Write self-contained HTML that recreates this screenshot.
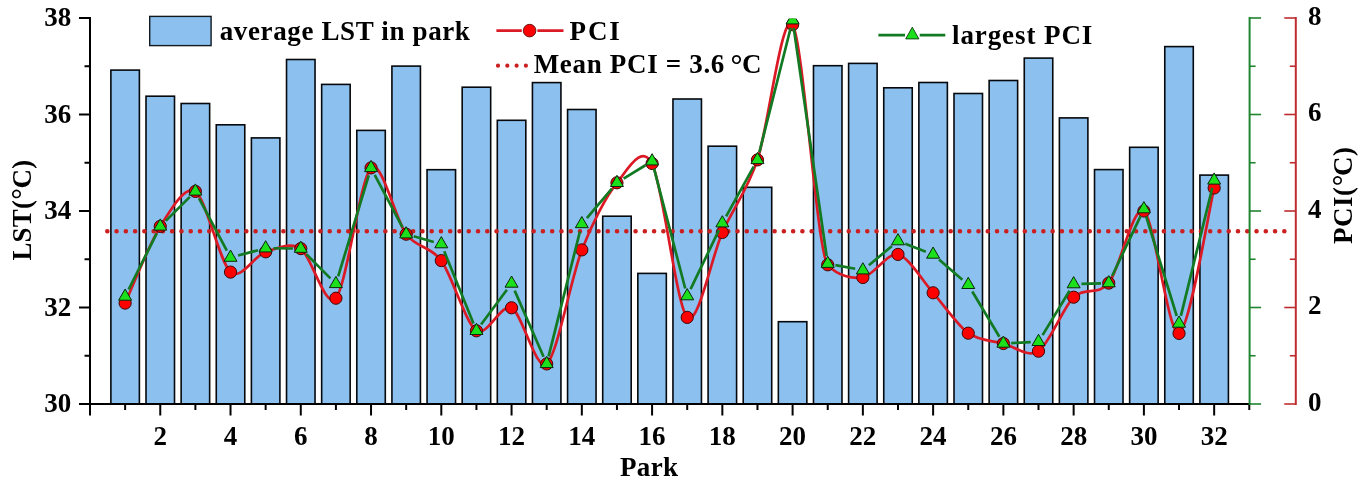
<!DOCTYPE html>
<html lang="en"><head><meta charset="utf-8"><title>Park LST and PCI</title>
<style>html,body{margin:0;padding:0;background:#fff;}body{width:1368px;height:486px;overflow:hidden;}svg{display:block;}text{font-family:"Liberation Serif", "DejaVu Serif", serif;font-weight:bold;font-size:27px;fill:#000;}</style>
</head><body>
<svg width="1368" height="486" viewBox="0 0 1368 486">
<rect x="0" y="0" width="1368" height="486" fill="#ffffff"/>
<defs><clipPath id="plot"><rect x="90" y="18.5" width="1205.8" height="385.5"/></clipPath></defs>
<g fill="#8CC1EF" stroke="#05080c" stroke-width="1.6" stroke-linejoin="miter">
<rect x="110.88" y="70.1" width="28.5" height="333.9"/>
<rect x="146.01" y="96.2" width="28.5" height="307.8"/>
<rect x="181.14" y="103.5" width="28.5" height="300.5"/>
<rect x="216.27" y="124.8" width="28.5" height="279.2"/>
<rect x="251.4" y="137.9" width="28.5" height="266.1"/>
<rect x="286.53" y="59.5" width="28.5" height="344.5"/>
<rect x="321.66" y="84.4" width="28.5" height="319.6"/>
<rect x="356.79" y="130.4" width="28.5" height="273.6"/>
<rect x="391.92" y="66.1" width="28.5" height="337.9"/>
<rect x="427.05" y="169.7" width="28.5" height="234.3"/>
<rect x="462.18" y="87.2" width="28.5" height="316.8"/>
<rect x="497.31" y="120.3" width="28.5" height="283.7"/>
<rect x="532.44" y="82.6" width="28.5" height="321.4"/>
<rect x="567.57" y="109.5" width="28.5" height="294.5"/>
<rect x="602.7" y="216.2" width="28.5" height="187.8"/>
<rect x="637.83" y="273.4" width="28.5" height="130.6"/>
<rect x="672.96" y="99" width="28.5" height="305"/>
<rect x="708.09" y="146.2" width="28.5" height="257.8"/>
<rect x="743.22" y="187.3" width="28.5" height="216.7"/>
<rect x="778.35" y="321.7" width="28.5" height="82.3"/>
<rect x="813.48" y="65.7" width="28.5" height="338.3"/>
<rect x="848.61" y="63.4" width="28.5" height="340.6"/>
<rect x="883.74" y="87.8" width="28.5" height="316.2"/>
<rect x="918.87" y="82.5" width="28.5" height="321.5"/>
<rect x="954" y="93.5" width="28.5" height="310.5"/>
<rect x="989.13" y="80.5" width="28.5" height="323.5"/>
<rect x="1024.26" y="58.1" width="28.5" height="345.9"/>
<rect x="1059.39" y="117.9" width="28.5" height="286.1"/>
<rect x="1094.52" y="169.6" width="28.5" height="234.4"/>
<rect x="1129.65" y="147.3" width="28.5" height="256.7"/>
<rect x="1164.78" y="46.6" width="28.5" height="357.4"/>
<rect x="1199.91" y="175.1" width="28.5" height="228.9"/>
</g>
<line x1="107.3" y1="231.2" x2="1285" y2="231.2" stroke="#CC1F1F" stroke-width="4.6" stroke-linecap="round" stroke-dasharray="0 9.268"/>
<g clip-path="url(#plot)">
<path d="M125.13 303.1 C130.4 291.6 149.72 243.16 160.26 226.4 C170.8 209.65 184.85 184.55 195.39 191.4 C205.93 198.25 219.98 263.04 230.52 272.1 C241.06 281.16 255.11 254.68 265.65 251.8 C276.19 248.92 290.24 241.64 300.78 248.6 C311.32 255.56 325.37 310.31 335.91 298.2 C346.45 286.09 360.5 177.5 371.04 167.9 C381.58 158.3 395.63 220.29 406.17 234.2 C416.71 248.1 430.76 246.11 441.3 260.6 C451.84 275.09 465.89 323.72 476.43 330.8 C486.97 337.88 501.02 302.84 511.56 307.8 C522.1 312.76 536.15 372.58 546.69 363.9 C557.23 355.21 571.28 277.06 581.82 249.9 C592.36 222.74 606.41 195.76 616.95 182.8 C627.49 169.84 641.54 143.31 652.08 163.5 C662.62 183.69 676.67 307.05 687.21 317.4 C697.75 327.75 711.8 256.12 722.34 232.5 C732.88 208.88 746.93 191.07 757.47 159.9 C768.01 128.73 782.06 8.96 792.6 24.7 C803.14 40.44 817.19 253.37 827.73 264.8 C838.27 276.23 852.32 279.06 862.86 277.5 C873.4 275.94 887.45 252.11 897.99 254.4 C908.53 256.69 922.58 280.98 933.12 292.8 C943.66 304.62 957.71 325.59 968.25 333.2 C978.79 340.81 992.84 340.8 1003.38 343.5 C1013.92 346.2 1027.97 358.14 1038.51 351.2 C1049.05 344.25 1063.1 307.41 1073.64 297.2 C1084.18 286.99 1098.23 295.79 1108.77 283.1 C1119.31 270.41 1133.36 203.46 1143.9 211 C1154.44 218.54 1168.49 336.85 1179.03 333.4 C1189.57 329.95 1208.89 209.81 1214.16 188" fill="none" stroke="#DC1A26" stroke-width="2.7" stroke-linejoin="round"/>
<g fill="#FF0000" stroke="#3a0808" stroke-width="1">
<circle cx="125.13" cy="303.1" r="6.1"/>
<circle cx="160.26" cy="226.4" r="6.1"/>
<circle cx="195.39" cy="191.4" r="6.1"/>
<circle cx="230.52" cy="272.1" r="6.1"/>
<circle cx="265.65" cy="251.8" r="6.1"/>
<circle cx="300.78" cy="248.6" r="6.1"/>
<circle cx="335.91" cy="298.2" r="6.1"/>
<circle cx="371.04" cy="167.9" r="6.1"/>
<circle cx="406.17" cy="234.2" r="6.1"/>
<circle cx="441.3" cy="260.6" r="6.1"/>
<circle cx="476.43" cy="330.8" r="6.1"/>
<circle cx="511.56" cy="307.8" r="6.1"/>
<circle cx="546.69" cy="363.9" r="6.1"/>
<circle cx="581.82" cy="249.9" r="6.1"/>
<circle cx="616.95" cy="182.8" r="6.1"/>
<circle cx="652.08" cy="163.5" r="6.1"/>
<circle cx="687.21" cy="317.4" r="6.1"/>
<circle cx="722.34" cy="232.5" r="6.1"/>
<circle cx="757.47" cy="159.9" r="6.1"/>
<circle cx="792.6" cy="24.7" r="6.1"/>
<circle cx="827.73" cy="264.8" r="6.1"/>
<circle cx="862.86" cy="277.5" r="6.1"/>
<circle cx="897.99" cy="254.4" r="6.1"/>
<circle cx="933.12" cy="292.8" r="6.1"/>
<circle cx="968.25" cy="333.2" r="6.1"/>
<circle cx="1003.38" cy="343.5" r="6.1"/>
<circle cx="1038.51" cy="351.2" r="6.1"/>
<circle cx="1073.64" cy="297.2" r="6.1"/>
<circle cx="1108.77" cy="283.1" r="6.1"/>
<circle cx="1143.9" cy="211" r="6.1"/>
<circle cx="1179.03" cy="333.4" r="6.1"/>
<circle cx="1214.16" cy="188" r="6.1"/>
</g>
<path d="M128.62 289.49 L156.77 233.34 M165.79 220.86 L189.86 196.87 M199.05 198.26 L226.86 250.68 M238.05 255.55 L258.12 250.18 M273.45 248.26 L292.98 248.48 M306.28 254.1 L330.41 278.34 M338.17 276.4 L368.78 175.33 M374.69 174.76 L402.52 227.27 M413.68 236.28 L433.79 241.95 M444.23 251.3 L473.5 323.54 M481.08 324.5 L506.91 289.73 M514.68 290.61 L543.57 356.72 M548.59 356.3 L579.92 231.53 M586.88 218.03 L611.89 188.7 M623.59 178.68 L645.44 165.25 M654.05 168.71 L685.24 288.52 M690.6 289.04 L718.95 230.19 M726.12 216.35 L753.69 166.69 M759.37 152.3 L790.7 27.73 M793.71 27.89 L826.62 255.95 M835.4 265.09 L855.19 268.75 M868.87 265.19 L891.98 246.04 M905.28 243.85 L925.83 251.69 M939.03 259.56 L962.34 279.67 M972.26 291.46 L999.37 336.77 M1011.17 343.09 L1030.72 342.14 M1042.57 335.1 L1069.58 290.73 M1081.44 283.84 L1100.97 283.29 M1112.12 276.02 L1140.55 216.11 M1146.19 216.52 L1176.74 316.01 M1180.89 315.89 L1212.3 187.94" fill="none" stroke="#127A22" stroke-width="2.7"/>
<g fill="#1BE01B" stroke="#0a260c" stroke-width="1" stroke-linejoin="miter">
<path d="M125.13 289 L131.63 300.2 L118.63 300.2Z"/>
<path d="M160.26 218.9 L166.76 230.1 L153.76 230.1Z"/>
<path d="M195.39 183.9 L201.89 195.1 L188.89 195.1Z"/>
<path d="M230.52 250.1 L237.02 261.3 L224.02 261.3Z"/>
<path d="M265.65 240.7 L272.15 251.9 L259.15 251.9Z"/>
<path d="M300.78 241.1 L307.28 252.3 L294.28 252.3Z"/>
<path d="M335.91 276.4 L342.41 287.6 L329.41 287.6Z"/>
<path d="M371.04 160.4 L377.54 171.6 L364.54 171.6Z"/>
<path d="M406.17 226.7 L412.67 237.9 L399.67 237.9Z"/>
<path d="M441.3 236.6 L447.8 247.8 L434.8 247.8Z"/>
<path d="M476.43 323.3 L482.93 334.5 L469.93 334.5Z"/>
<path d="M511.56 276 L518.06 287.2 L505.06 287.2Z"/>
<path d="M546.69 356.4 L553.19 367.6 L540.19 367.6Z"/>
<path d="M581.82 216.5 L588.32 227.7 L575.32 227.7Z"/>
<path d="M616.95 175.3 L623.45 186.5 L610.45 186.5Z"/>
<path d="M652.08 153.7 L658.58 164.9 L645.58 164.9Z"/>
<path d="M687.21 288.6 L693.71 299.8 L680.71 299.8Z"/>
<path d="M722.34 215.7 L728.84 226.9 L715.84 226.9Z"/>
<path d="M757.47 152.4 L763.97 163.6 L750.97 163.6Z"/>
<path d="M792.6 12.7 L799.1 23.9 L786.1 23.9Z"/>
<path d="M827.73 256.2 L834.23 267.4 L821.23 267.4Z"/>
<path d="M862.86 262.7 L869.36 273.9 L856.36 273.9Z"/>
<path d="M897.99 233.6 L904.49 244.8 L891.49 244.8Z"/>
<path d="M933.12 247 L939.62 258.2 L926.62 258.2Z"/>
<path d="M968.25 277.3 L974.75 288.5 L961.75 288.5Z"/>
<path d="M1003.38 336 L1009.88 347.2 L996.88 347.2Z"/>
<path d="M1038.51 334.3 L1045.01 345.5 L1032.01 345.5Z"/>
<path d="M1073.64 276.6 L1080.14 287.8 L1067.14 287.8Z"/>
<path d="M1108.77 275.6 L1115.27 286.8 L1102.27 286.8Z"/>
<path d="M1143.9 201.6 L1150.4 212.8 L1137.4 212.8Z"/>
<path d="M1179.03 316 L1185.53 327.2 L1172.53 327.2Z"/>
<path d="M1214.16 172.9 L1220.66 184.1 L1207.66 184.1Z"/>
</g>
</g>
<g stroke="#000" stroke-width="2.0" fill="none" stroke-linecap="butt">
<path d="M90 17 V405"/>
<path d="M89 404 H1250.6"/>
<path d="M79 404 H90"/>
<path d="M84.5 355.75 H90"/>
<path d="M79 307.5 H90"/>
<path d="M84.5 259.25 H90"/>
<path d="M79 211 H90"/>
<path d="M84.5 162.75 H90"/>
<path d="M79 114.5 H90"/>
<path d="M84.5 66.25 H90"/>
<path d="M79 18 H90"/>
<path d="M90 404 V415.5"/>
<path d="M125.13 404 V410"/>
<path d="M160.26 404 V415.5"/>
<path d="M195.39 404 V410"/>
<path d="M230.52 404 V415.5"/>
<path d="M265.65 404 V410"/>
<path d="M300.78 404 V415.5"/>
<path d="M335.91 404 V410"/>
<path d="M371.04 404 V415.5"/>
<path d="M406.17 404 V410"/>
<path d="M441.3 404 V415.5"/>
<path d="M476.43 404 V410"/>
<path d="M511.56 404 V415.5"/>
<path d="M546.69 404 V410"/>
<path d="M581.82 404 V415.5"/>
<path d="M616.95 404 V410"/>
<path d="M652.08 404 V415.5"/>
<path d="M687.21 404 V410"/>
<path d="M722.34 404 V415.5"/>
<path d="M757.47 404 V410"/>
<path d="M792.6 404 V415.5"/>
<path d="M827.73 404 V410"/>
<path d="M862.86 404 V415.5"/>
<path d="M897.99 404 V410"/>
<path d="M933.12 404 V415.5"/>
<path d="M968.25 404 V410"/>
<path d="M1003.38 404 V415.5"/>
<path d="M1038.51 404 V410"/>
<path d="M1073.64 404 V415.5"/>
<path d="M1108.77 404 V410"/>
<path d="M1143.9 404 V415.5"/>
<path d="M1179.03 404 V410"/>
<path d="M1214.16 404 V415.5"/>
<path d="M1249.29 404 V410"/>
</g>
<g stroke="#1F8530" stroke-width="2.0" fill="none">
<path d="M1249.6 17 V405"/>
<path d="M1249.6 404 H1261.1" stroke-width="1.6"/>
<path d="M1249.6 355.75 H1255.6" stroke-width="1.6"/>
<path d="M1249.6 307.5 H1261.1" stroke-width="1.6"/>
<path d="M1249.6 259.25 H1255.6" stroke-width="1.6"/>
<path d="M1249.6 211 H1261.1" stroke-width="1.6"/>
<path d="M1249.6 162.75 H1255.6" stroke-width="1.6"/>
<path d="M1249.6 114.5 H1261.1" stroke-width="1.6"/>
<path d="M1249.6 66.25 H1255.6" stroke-width="1.6"/>
<path d="M1249.6 18 H1261.1" stroke-width="1.6"/>
</g>
<g stroke="#BE2C30" stroke-width="2.0" fill="none">
<path d="M1295.8 17 V405"/>
<path d="M1284.3 404 H1295.8" stroke-width="1.6"/>
<path d="M1289.8 355.75 H1295.8" stroke-width="1.6"/>
<path d="M1284.3 307.5 H1295.8" stroke-width="1.6"/>
<path d="M1289.8 259.25 H1295.8" stroke-width="1.6"/>
<path d="M1284.3 211 H1295.8" stroke-width="1.6"/>
<path d="M1289.8 162.75 H1295.8" stroke-width="1.6"/>
<path d="M1284.3 114.5 H1295.8" stroke-width="1.6"/>
<path d="M1289.8 66.25 H1295.8" stroke-width="1.6"/>
<path d="M1284.3 18 H1295.8" stroke-width="1.6"/>
</g>
<g text-anchor="end" style="font-size:27.5px">
<text x="71.2" y="412.2">30</text>
<text x="71.2" y="315.7">32</text>
<text x="71.2" y="219.2">34</text>
<text x="71.2" y="122.7">36</text>
<text x="71.2" y="26.2">38</text>
</g>
<g text-anchor="middle" style="font-size:27.5px">
<text x="160.26" y="444.7">2</text>
<text x="230.52" y="444.7">4</text>
<text x="300.78" y="444.7">6</text>
<text x="371.04" y="444.7">8</text>
<text x="441.3" y="444.7">10</text>
<text x="511.56" y="444.7">12</text>
<text x="581.82" y="444.7">14</text>
<text x="652.08" y="444.7">16</text>
<text x="722.34" y="444.7">18</text>
<text x="792.6" y="444.7">20</text>
<text x="862.86" y="444.7">22</text>
<text x="933.12" y="444.7">24</text>
<text x="1003.38" y="444.7">26</text>
<text x="1073.64" y="444.7">28</text>
<text x="1143.9" y="444.7">30</text>
<text x="1214.16" y="444.7">32</text>
</g>
<g text-anchor="start" style="font-size:27.5px">
<text x="1308" y="410.6">0</text>
<text x="1308" y="314.1">2</text>
<text x="1308" y="217.6">4</text>
<text x="1308" y="121.1">6</text>
<text x="1308" y="24.6">8</text>
</g>
<text x="620" y="476" textLength="58" lengthAdjust="spacing">Park</text>
<text transform="translate(31.3 260.6) rotate(-90)" style="letter-spacing:0.2px">LST(<tspan dy="0.8" style="font-size:29px">°</tspan><tspan dx="-0.55" dy="-0.8">C)</tspan></text>
<text transform="translate(1352.4 243.9) rotate(-90)" style="letter-spacing:0.5px">PCI(<tspan dx="0.15" dy="0.8" style="font-size:29px">°</tspan><tspan dx="-1.85" dy="-0.8">C)</tspan></text>
<rect x="149.7" y="16.4" width="61.4" height="29.2" fill="#8CC1EF" stroke="#111820" stroke-width="1.4"/>
<g style="font-size:28px">
<text x="219.7" y="40.1" textLength="250.2" lengthAdjust="spacing">average LST in park</text>
<text x="569.6" y="39.9" textLength="50.1" lengthAdjust="spacing">PCI</text>
<text y="73"><tspan x="533.7" textLength="190.6" lengthAdjust="spacing">Mean PCI = 3.6</tspan> <tspan x="730.6" dy="1.5" style="font-size:30px">°</tspan><tspan x="742.1" dy="-1.5">C</tspan></text>
<text x="952" y="43.8" textLength="140.3" lengthAdjust="spacing">largest PCI</text>
</g>
<path d="M496.4 30.6 H521.8 M537.4 30.6 H563.5" stroke="#DC1A26" stroke-width="2.7" fill="none"/>
<circle cx="529.6" cy="30.6" r="6.3" fill="#FF0000" stroke="#5a0c0c" stroke-width="0.9"/>
<line x1="498" y1="65.7" x2="530" y2="65.7" stroke="#CC1F1F" stroke-width="4.2" stroke-linecap="round" stroke-dasharray="0 9.3"/>
<path d="M878.4 35.2 H905 M919.7 35.2 H945.3" stroke="#127A22" stroke-width="2.7" fill="none"/>
<path d="M912.3 27.2 L918.9 38.9 L905.7 38.9Z" fill="#1BE01B" stroke="#0c3a10" stroke-width="0.9"/>
</svg>
</body></html>
